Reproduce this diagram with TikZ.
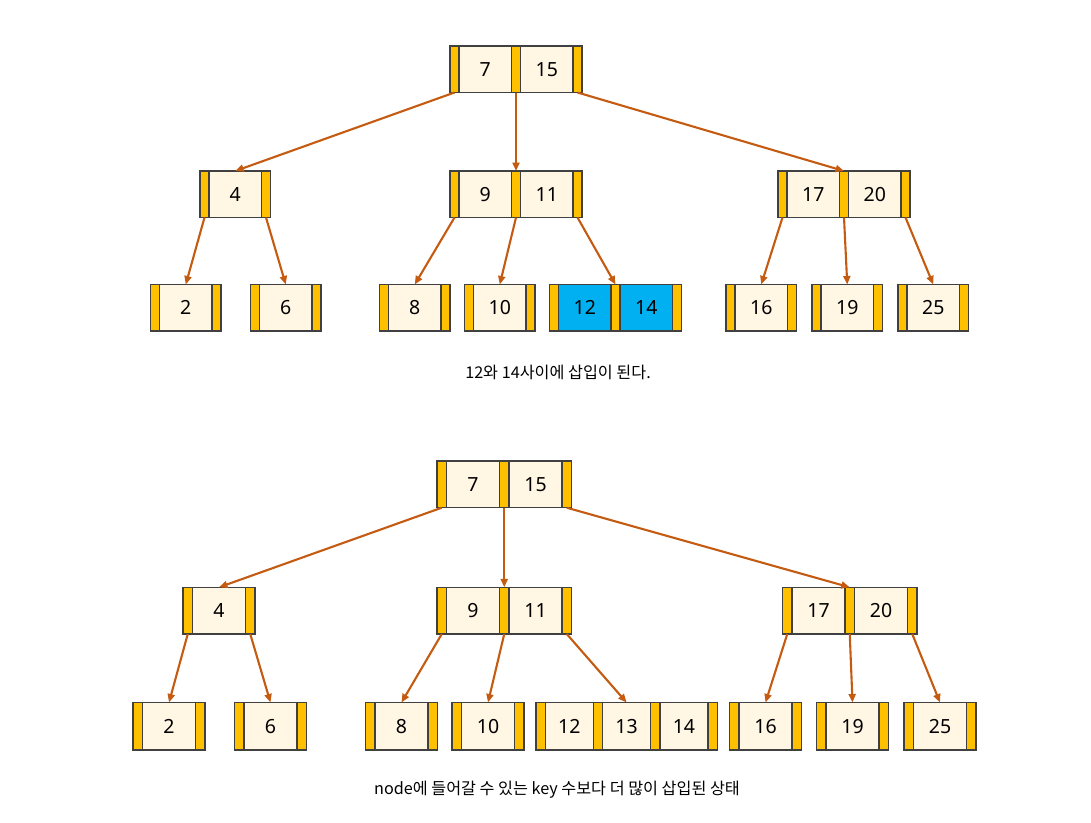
\documentclass[tikz,border=0pt]{standalone}
\usepackage{fontspec}
\setmainfont{Noto Sans}
\newfontfamily\krfont{Noto Sans CJK KR}
\usetikzlibrary{arrows.meta}

\definecolor{cellfill}{RGB}{255,246,227}
\definecolor{barfill}{RGB}{255,192,0}
\definecolor{hilite}{RGB}{0,176,240}
\definecolor{edgegray}{RGB}{64,64,64}
\definecolor{ptrcol}{RGB}{197,90,17}

\tikzset{
  ptr/.style={draw=ptrcol, line width=2.1pt, -{Triangle[length=8.5pt,width=7pt]}},
  keybox/.style={draw=edgegray, line width=1.2pt},
  keytext/.style={font=\fontsize{19.5}{19.5}\selectfont, text=black, inner sep=0pt},
  caption/.style={font=\krfont\fontsize{16.2}{16.2}\selectfont, inner sep=0pt},
  frame/.style={inner sep=0pt, outer sep=0pt},
}

% B-tree node: #1 name, #2 left, #3 top, #4 height, #5 pointer-bar width,
% #6 key-cell width, #7 keys, #8 key-cell fill
\newcommand{\btnode}[8]{%
  \begin{scope}[shift={(#2,#3)}]
    \pgfmathsetmacro\btstep{#5+#6}
    \foreach \k [count=\i from 0] in {#7} {
      \pgfmathsetmacro\btbx{\i*\btstep}
      \pgfmathsetmacro\btcx{\btbx+#5}
      \filldraw[keybox, fill=barfill] (\btbx,0) rectangle ++(#5,#4);
      \filldraw[keybox, fill=#8] (\btcx,0) rectangle ++(#6,#4);
      \node[keytext] (#1-k\i) at (\btcx+#6/2, #4/2) {\k};
      \coordinate (#1-p\i) at (\btbx+#5/2, #4);
      \xdef\btlast{\i}
    }
    \pgfmathsetmacro\btbx{(\btlast+1)*\btstep}
    \pgfmathsetmacro\btwidth{\btbx+#5}
    \pgfmathtruncatemacro\btnn{\btlast+1}
    \filldraw[keybox, fill=barfill] (\btbx,0) rectangle ++(#5,#4);
    \coordinate (#1-p\btnn) at (\btbx+#5/2, #4);
    \draw[keybox] (0,0) rectangle (\btwidth,#4);
    \node[frame, minimum width=\btwidth pt, minimum height=#4pt, anchor=north west] (#1) at (0,0) {};
  \end{scope}
}

\begin{document}
\begin{tikzpicture}[x=1pt, y=-1pt]
  \useasboundingbox (0,0) rectangle (1091,822);

  % ---------- tree before the split ----------
  \btnode{r1}{450}{46}{46.5}{9}{52.5}{7,15}{cellfill}
  \btnode{a1}{200}{171}{46.5}{9}{52.5}{4}{cellfill}
  \btnode{b1}{450}{171}{46.5}{9}{52.5}{9,11}{cellfill}
  \btnode{c1}{778}{171}{46.5}{9}{52.5}{17,20}{cellfill}
  \btnode{l1a}{150.5}{284.5}{46.5}{9}{52.5}{2}{cellfill}
  \btnode{l1b}{250.5}{284.5}{46.5}{9}{52.5}{6}{cellfill}
  \btnode{l1c}{379.5}{284.5}{46.5}{9}{52.5}{8}{cellfill}
  \btnode{l1d}{464.5}{284.5}{46.5}{9}{52.5}{10}{cellfill}
  \btnode{l1e}{549.5}{284.5}{46.5}{9}{52.5}{12,14}{hilite}
  \btnode{l1f}{726}{284.5}{46.5}{9}{52.5}{16}{cellfill}
  \btnode{l1g}{812}{284.5}{46.5}{9}{52.5}{19}{cellfill}
  \btnode{l1h}{898}{284.5}{46.5}{9}{52.5}{25}{cellfill}

  \draw[ptr] (r1-p0) -- (a1.north);
  \draw[ptr] (r1-p1) -- (b1.north);
  \draw[ptr] (r1-p2) -- (c1.north);
  \draw[ptr] (a1-p0) -- (l1a.north);
  \draw[ptr] (a1-p1) -- (l1b.north);
  \draw[ptr] (b1-p0) -- (l1c.north);
  \draw[ptr] (b1-p1) -- (l1d.north);
  \draw[ptr] (b1-p2) -- (l1e.north);
  \draw[ptr] (c1-p0) -- (l1f.north);
  \draw[ptr] (c1-p1) -- (l1g.north);
  \draw[ptr] (c1-p2) -- (l1h.north);

  \node[caption] (cap1) at (558,372) {12와 14사이에 삽입이 된다.};

  % ---------- tree after the overflow ----------
  \btnode{r2}{437}{461}{46.7}{9.5}{53}{7,15}{cellfill}
  \btnode{a2}{183}{587.3}{46.7}{9.5}{53}{4}{cellfill}
  \btnode{b2}{437}{587.3}{46.7}{9.5}{53}{9,11}{cellfill}
  \btnode{c2}{782.5}{587.3}{46.7}{9.5}{53}{17,20}{cellfill}
  \btnode{l2a}{133}{702.5}{47.5}{9.5}{53}{2}{cellfill}
  \btnode{l2b}{234.5}{702.5}{47.5}{9.5}{53}{6}{cellfill}
  \btnode{l2c}{365.5}{702.5}{47.5}{9.5}{53}{8}{cellfill}
  \btnode{l2d}{452}{702.5}{47.5}{9.5}{53}{10}{cellfill}
  \btnode{l2e}{536}{702.5}{47.5}{9.3}{48}{12,13,14}{cellfill}
  \btnode{l2f}{729.5}{702.5}{47.5}{9.5}{53}{16}{cellfill}
  \btnode{l2g}{816.5}{702.5}{47.5}{9.5}{53}{19}{cellfill}
  \btnode{l2h}{904}{702.5}{47.5}{9.5}{53}{25}{cellfill}

  \draw[ptr] (r2-p0) -- (a2.north);
  \draw[ptr] (r2-p1) -- (b2.north);
  \draw[ptr] (r2-p2) -- (c2.north);
  \draw[ptr] (a2-p0) -- (l2a.north);
  \draw[ptr] (a2-p1) -- (l2b.north);
  \draw[ptr] (b2-p0) -- (l2c.north);
  \draw[ptr] (b2-p1) -- (l2d.north);
  \draw[ptr] (b2-p2) -- (l2e.north);
  \draw[ptr] (c2-p0) -- (l2f.north);
  \draw[ptr] (c2-p1) -- (l2g.north);
  \draw[ptr] (c2-p2) -- (l2h.north);

  \node[caption] (cap2) at (557,790) {node에 들어갈 수 있는 key 수보다 더 많이 삽입된 상태};
\end{tikzpicture}
\end{document}
